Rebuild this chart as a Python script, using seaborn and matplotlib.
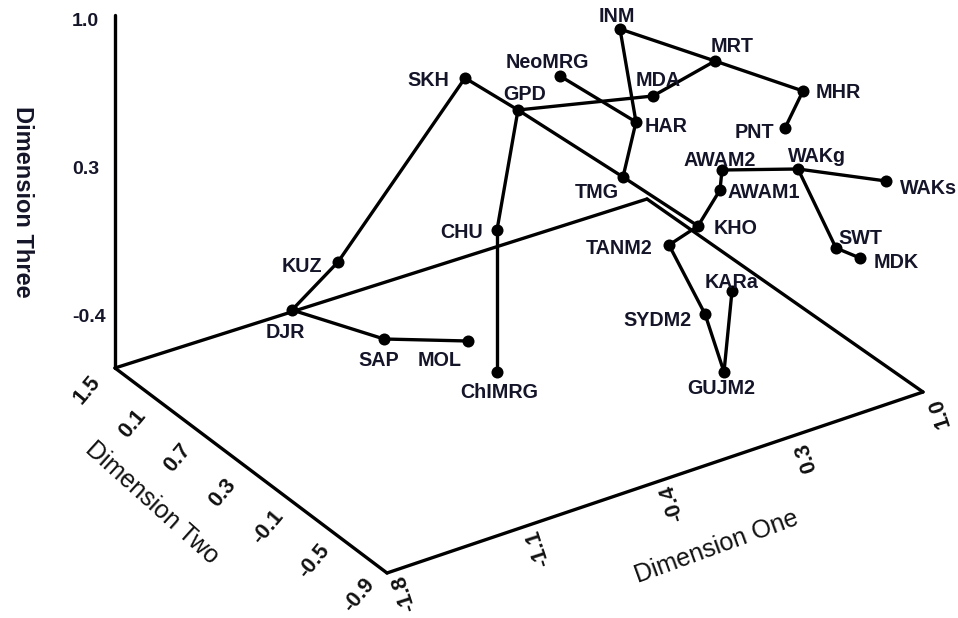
import numpy as np
import pandas as pd
import matplotlib
matplotlib.use("Agg")
import matplotlib.pyplot as plt
import seaborn as sns

# Population coordinates in the projected (oblique 3-D) drawing plane
populations = ["SKH", "KUZ", "DJR", "SAP", "MOL", "CHU", "ChIMRG", "GPD", "NeoMRG",
               "MDA", "INM", "MRT", "MHR", "PNT", "HAR", "TMG", "AWAM2", "AWAM1",
               "WAKg", "WAKs", "KHO", "TANM2", "SWT", "MDK", "KARa", "SYDM2", "GUJM2"]
plane_x = [465, 338, 292, 384, 468, 497, 497, 518, 560,
           653, 620, 715, 803, 785, 636, 623, 722, 720,
           798, 886, 698, 669, 836, 860, 732, 705, 724]
plane_y = [78, 262, 310, 339, 341, 230, 372, 110, 76,
           96, 29, 61, 91, 128, 122, 177, 170, 190,
           169, 181, 226, 245, 248, 258, 291, 314, 372]

# Links of the network between populations
edges = [("SKH", "KUZ"), ("KUZ", "DJR"), ("DJR", "SAP"), ("SAP", "MOL"),
         ("SKH", "GPD"), ("GPD", "MDA"), ("GPD", "CHU"), ("CHU", "ChIMRG"),
         ("GPD", "TMG"), ("NeoMRG", "HAR"), ("INM", "HAR"), ("INM", "MRT"),
         ("MDA", "MRT"), ("MRT", "MHR"), ("MHR", "PNT"), ("HAR", "TMG"),
         ("TMG", "KHO"), ("KHO", "AWAM1"), ("AWAM1", "AWAM2"), ("AWAM2", "WAKg"),
         ("WAKg", "WAKs"), ("WAKg", "SWT"), ("SWT", "MDK"), ("KHO", "TANM2"),
         ("TANM2", "SYDM2"), ("SYDM2", "GUJM2"), ("GUJM2", "KARa")]

# Axis tick labels
dim_three_ticks = [1.0, 0.3, -0.4]
dim_two_labels = ["1.5", "0.1", "0.7", "0.3", "-0.1", "-0.5", "-0.9"]
dim_one_labels = ["-1.8", "-1.1", "-0.4", "0.3", "1.0"]

# Corners of the projected box frame
frame = {"top": (115, 15), "origin": (115, 368), "front": (387, 573),
         "right": (923, 392), "back": (647, 199)}

# Label placement (offset of label centre from its point, in drawing units)
label_offset = {
    "SKH": (-37, 3), "KUZ": (-36, 5), "DJR": (-7, 23), "SAP": (-5, 22), "MOL": (-28, 20),
    "CHU": (-35, 2), "ChIMRG": (2, 21), "GPD": (7, -16), "NeoMRG": (-13, -14),
    "MDA": (5, -16), "INM": (-3, -12), "MRT": (17, -14), "MHR": (35, 1), "PNT": (-31, 5),
    "HAR": (30, 5), "TMG": (-26, 16), "AWAM2": (-2, -10), "AWAM1": (44, 3),
    "WAKg": (19, -13), "WAKs": (42, 7), "KHO": (38, 2), "TANM2": (-50, 4),
    "SWT": (24, -9), "MDK": (36, 4), "KARa": (0, -9), "SYDM2": (-48, 7), "GUJM2": (-3, 16),
}

sns.set_theme(style="white")
plt.rcParams["font.family"] = ["Liberation Sans", "DejaVu Sans"]

df = pd.DataFrame({"pop": populations, "x": plane_x, "y": plane_y})
pos = {p: (x, y) for p, x, y in zip(populations, plane_x, plane_y)}

fig = plt.figure(figsize=(9.58, 6.18), dpi=100)
ax = fig.add_axes([0, 0, 1, 1])

line_kw = dict(color="black", lw=2.4, solid_capstyle="round", zorder=1)

# Box frame
for a, b in [("top", "origin"), ("origin", "front"), ("front", "right"),
             ("right", "back"), ("origin", "back")]:
    ax.plot([frame[a][0], frame[b][0]], [frame[a][1], frame[b][1]], **line_kw)

# Network links
for a, b in edges:
    ax.plot([pos[a][0], pos[b][0]], [pos[a][1], pos[b][1]], **line_kw)

# Points
sns.scatterplot(data=df, x="x", y="y", s=75, color="black", edgecolor="black",
                linewidth=0, legend=False, ax=ax, zorder=3)
ax.set_xlim(0, 958)
ax.set_ylim(618, 0)
ax.axis("off")

text_color = "#15152a"
for p in populations:
    dx, dy = label_offset[p]
    ax.text(pos[p][0] + dx, pos[p][1] + dy, p, ha="center", va="center",
            fontsize=14.2, fontweight="bold", color=text_color, zorder=4)

# Dimension Three (vertical) ticks
tick_y = np.interp(dim_three_ticks, [-0.4, 1.0], [318, 22])
for v, ty in zip(dim_three_ticks, tick_y):
    ax.text(72, ty, f"{v:.1f}", ha="left", va="center", fontsize=14,
            fontweight="bold", color=text_color)

# Dimension Two ticks along origin -> front edge
o = np.array(frame["origin"], float)
f = np.array(frame["front"], float)
r = np.array(frame["right"], float)
for i, lab in enumerate(dim_two_labels):
    t = i / (len(dim_two_labels) - 1)
    px, py = o + t * (f - o)
    ax.text(px - 28, py + 22, lab, ha="center", va="center", rotation=50,
            rotation_mode="anchor", fontsize=15.5, fontweight="bold", color="#111111")

# Dimension One ticks along front -> right edge
for i, lab in enumerate(dim_one_labels):
    t = i / (len(dim_one_labels) - 1)
    px, py = f + t * (r - f)
    ax.text(px + 17, py + 20, lab, ha="center", va="center", rotation=108,
            rotation_mode="anchor", fontsize=15.5, fontweight="bold", color="#111111")

# Axis titles
ax.text(22, 202, "Dimension Three", ha="center", va="center", rotation=-90,
        fontsize=17, fontweight="bold", color=text_color)
ax.text(152, 503, "Dimension Two", ha="center", va="center", rotation=-42,
        rotation_mode="anchor", fontsize=18, color="#111111")
ax.text(717, 547, "Dimension One", ha="center", va="center", rotation=20,
        rotation_mode="anchor", fontsize=18, color="#111111")

fig.savefig("out.png", dpi=100, facecolor="white")
